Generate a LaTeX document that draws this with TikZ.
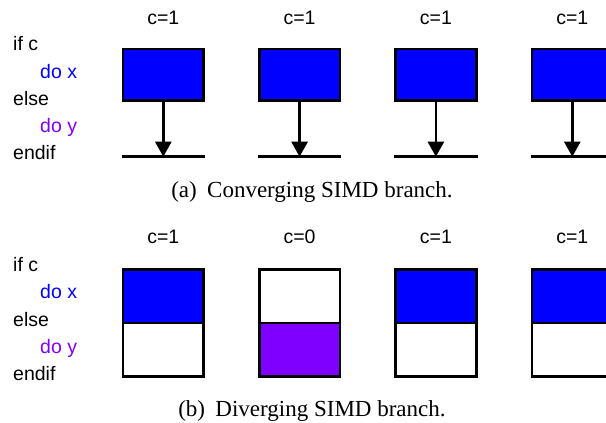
\documentclass[tikz,border=0pt]{standalone}
\usepackage{fontspec}
\setmainfont{Liberation Serif}
\newfontfamily\lblfont{Liberation Sans}
\usetikzlibrary{arrows.meta}
\definecolor{xblue}{RGB}{0,0,255}
\definecolor{ypurple}{RGB}{127,0,255}
\tikzset{
  lbl/.style={font=\lblfont\fontsize{19.5}{22}\selectfont, inner sep=0pt, anchor=base},
  code/.style={font=\lblfont\fontsize{19.5}{22}\selectfont, inner sep=0pt, anchor=base west},
  captext/.style={font=\fontsize{23}{26}\selectfont, inner sep=0pt, anchor=base},
  fullbox/.style={draw=black, line width=2.6pt, fill=xblue, minimum width=80.6pt, minimum height=51.4pt, inner sep=0pt, outer sep=0pt, anchor=north west},
  halfbox/.style={draw=black, line width=2.6pt, minimum width=80.6pt, minimum height=53.7pt, inner sep=0pt, outer sep=0pt, anchor=north west},
  bar/.style={line width=2.6pt},
  arr/.style={line width=2.6pt, -{Triangle[width=16pt,length=15pt]}}
}
\begin{document}
\begin{tikzpicture}[x=1pt,y=-1pt]
\useasboundingbox (0,0) rectangle (606,423);
\clip (0,0) rectangle (606,423);
% ---------- (a) ----------
\node[code] (ca1) at (13,50.7) {if c};
\node[code, text=xblue] (ca2) at (40,78) {do x};
\node[code] (ca3) at (13,105.5) {else};
\node[code, text=ypurple] (ca4) at (40,132.7) {do y};
\node[code] (ca5) at (13,159.5) {endif};
\foreach \i/\x in {1/123,2/259.3,3/395.6,4/532}{
  \node[lbl] (la\i) at (\x+40.3,24) {c=1};
  \node[fullbox] (ba\i) at (\x,49) {};
  \coordinate (ra\i) at (\x-1.3,156.7);
  \coordinate (sa\i) at (\x+81.9,156.7);
  \draw[bar] (ra\i) -- (sa\i);
  \draw[arr] (ba\i.south) -- (ba\i.south |- ra\i);
}
\node[captext] (capa) at (312,197) {(a)\hspace{0.45em}Converging SIMD branch.};
% ---------- (b) ----------
\node[code] (cb1) at (13,271) {if c};
\node[code, text=xblue] (cb2) at (40,298.5) {do x};
\node[code] (cb3) at (13,326) {else};
\node[code, text=ypurple] (cb4) at (40,353) {do y};
\node[code] (cb5) at (13,380) {endif};
\foreach \i/\x/\c/\ft/\fb in {1/123/1/xblue/white,2/259.3/0/white/ypurple,3/395.6/1/xblue/white,4/532/1/xblue/white}{
  \node[lbl] (lb\i) at (\x+40.3,243.5) {c=\c};
  \node[halfbox, fill=\fb] (bb\i) at (\x,323) {};
  \node[halfbox, fill=\ft] (tb\i) at (\x,269.3) {};
}
\node[captext] (capb) at (312,416.5) {(b)\hspace{0.45em}Diverging SIMD branch.};
\end{tikzpicture}
\end{document}
